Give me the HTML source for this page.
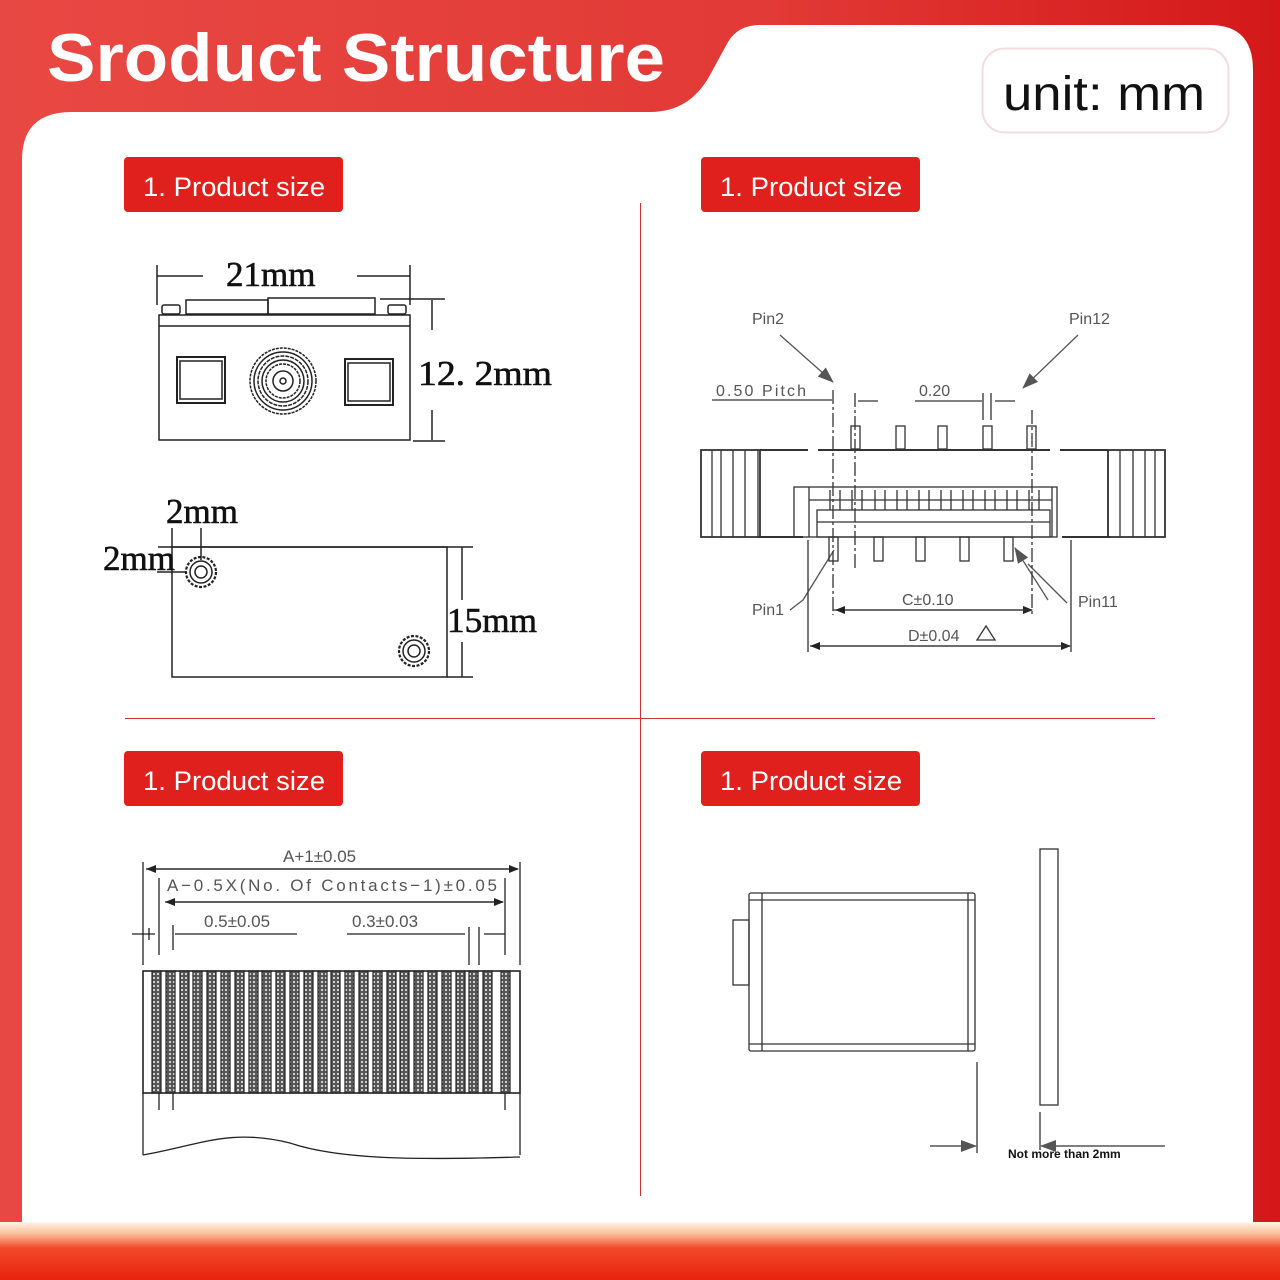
<!DOCTYPE html>
<html><head><meta charset="utf-8"><style>
html,body{margin:0;padding:0;width:1280px;height:1280px;overflow:hidden}
svg{display:block}
.s{font-family:"Liberation Sans",sans-serif}
.sf{font-family:"Liberation Serif",serif}
</style></head><body>
<svg width="1280" height="1280" viewBox="0 0 1280 1280" xmlns="http://www.w3.org/2000/svg">
<defs>
<linearGradient id="bg" x1="0" x2="1" y1="0" y2="0"><stop offset="0" stop-color="#e84843"/><stop offset="0.6" stop-color="#e23a36"/><stop offset="1" stop-color="#d4181a"/></linearGradient>
<linearGradient id="bot" x1="0" x2="0" y1="0" y2="1"><stop offset="0" stop-color="#fff6e8"/><stop offset="0.2" stop-color="#fcc09a"/><stop offset="0.45" stop-color="#f24a2a"/><stop offset="1" stop-color="#e8220e"/></linearGradient>
<pattern id="hat" width="4" height="4" patternUnits="userSpaceOnUse"><rect width="4" height="4" fill="#555"/><circle cx="2" cy="2" r="1.1" fill="#ddd"/></pattern>
<marker id="ar" markerWidth="10" markerHeight="8" refX="9" refY="4" orient="auto" markerUnits="userSpaceOnUse"><path d="M0,0 L10,4 L0,8z" fill="#222"/></marker>
<marker id="ag" markerWidth="16" markerHeight="12" refX="15" refY="6" orient="auto" markerUnits="userSpaceOnUse"><path d="M0,0 L16,6 L0,12z" fill="#555"/></marker>
</defs>
<rect width="1280" height="1280" fill="url(#bg)"/>
<path d="M22,1230 L22,160 Q22,112 72,112 L650,112 Q690,112 710,75 L728,42 Q738,25 760,25 L1210,25 Q1253,25 1253,70 L1253,1230 Z" fill="#fff"/>
<rect x="0" y="1222" width="1280" height="58" fill="url(#bot)"/>
<text x="47" y="81" class="s" font-size="68" font-weight="bold" fill="#fff" textLength="618" lengthAdjust="spacingAndGlyphs">Sroduct Structure</text>
<rect x="982.5" y="48.5" width="246" height="84" rx="22" fill="#fff" stroke="#f1dde0" stroke-width="2"/>
<text x="1003" y="110" class="s" font-size="48" fill="#111" textLength="202" lengthAdjust="spacingAndGlyphs">unit: mm</text>
<g class="s" font-size="27" fill="#fff">
<rect x="124" y="157" width="219" height="55" rx="4" fill="#e0201c"/><text x="143" y="196" textLength="182" lengthAdjust="spacingAndGlyphs">1. Product size</text>
<rect x="701" y="157" width="219" height="55" rx="4" fill="#e0201c"/><text x="720" y="196" textLength="182" lengthAdjust="spacingAndGlyphs">1. Product size</text>
<rect x="124" y="751" width="219" height="55" rx="4" fill="#e0201c"/><text x="143" y="790" textLength="182" lengthAdjust="spacingAndGlyphs">1. Product size</text>
<rect x="701" y="751" width="219" height="55" rx="4" fill="#e0201c"/><text x="720" y="790" textLength="182" lengthAdjust="spacingAndGlyphs">1. Product size</text>
</g>
<line x1="640.5" y1="203" x2="640.5" y2="1196" stroke="#c33" stroke-width="1"/>
<line x1="125" y1="718.5" x2="1155" y2="718.5" stroke="#c33" stroke-width="1"/>

<!-- Top-left -->
<g stroke="#222" stroke-width="1.5" fill="none">
<line x1="157" y1="265" x2="157" y2="305"/><line x1="410" y1="265" x2="410" y2="305"/>
<line x1="157" y1="276" x2="203" y2="276"/><line x1="357" y1="276" x2="410" y2="276"/>
<rect x="159" y="315" width="251" height="125"/><line x1="159" y1="326" x2="410" y2="326"/>
<rect x="186" y="300" width="82" height="14"/><rect x="268" y="298" width="107" height="16"/>
<rect x="162" y="305" width="18" height="9" rx="2"/><rect x="388" y="305" width="18" height="9" rx="2"/>
<rect x="177" y="357" width="48" height="46" stroke-width="2"/><rect x="180" y="361" width="42" height="38"/>
<rect x="345" y="359" width="48" height="46" stroke-width="2"/><rect x="348" y="363" width="42" height="38"/>
<circle cx="283" cy="381" r="33" stroke-dasharray="3 1"/><circle cx="283" cy="381" r="29"/><circle cx="283" cy="381" r="25" stroke-dasharray="4 1"/><circle cx="283" cy="381" r="21"/><circle cx="283" cy="381" r="17" stroke-dasharray="3 1"/><circle cx="283" cy="381" r="10"/><circle cx="283" cy="381" r="3"/>
<line x1="432" y1="300" x2="432" y2="330"/><line x1="432" y1="410" x2="432" y2="440"/>
<line x1="380" y1="299" x2="445" y2="299"/><line x1="413" y1="441" x2="445" y2="441"/>
<rect x="172" y="547" width="275" height="130"/>
<line x1="158" y1="547" x2="473" y2="547"/><line x1="447" y1="677" x2="473" y2="677"/>
<line x1="462" y1="547" x2="462" y2="600"/><line x1="462" y1="642" x2="462" y2="677"/>
<line x1="172" y1="528" x2="172" y2="547"/><line x1="201" y1="528" x2="201" y2="560"/>
<line x1="157" y1="572" x2="186" y2="572"/>
<circle cx="201" cy="572" r="15" stroke-width="2.2" stroke-dasharray="3 1.5"/><circle cx="201" cy="572" r="11"/><circle cx="201" cy="572" r="6"/>
<circle cx="414" cy="651" r="15" stroke-width="2.2" stroke-dasharray="3 1.5"/><circle cx="414" cy="651" r="11"/><circle cx="414" cy="651" r="6"/>
</g>
<g class="sf" font-size="35" fill="#111" stroke="#111" stroke-width="0.6">
<text x="226" y="286">21mm</text><text x="418" y="385" textLength="134" lengthAdjust="spacingAndGlyphs">12. 2mm</text>
<text x="166" y="523">2mm</text><text x="103" y="570">2mm</text><text x="447" y="632" textLength="90" lengthAdjust="spacingAndGlyphs">15mm</text>
</g>

<!-- Top-right -->
<g class="s" font-size="16" fill="#555">
<text x="752" y="324">Pin2</text><text x="1069" y="324">Pin12</text>
<text x="716" y="396" textLength="90" lengthAdjust="spacing">0.50  Pitch</text><text x="919" y="396">0.20</text>
<text x="752" y="615">Pin1</text><text x="1078" y="607">Pin11</text>
<text x="902" y="605">C±0.10</text><text x="908" y="641">D±0.04</text>
</g>
<g stroke="#333" stroke-width="1.3" fill="none">
<line x1="780" y1="335" x2="833" y2="382" stroke="#555" marker-end="url(#ag)"/>
<line x1="1078" y1="335" x2="1023" y2="388" stroke="#555" marker-end="url(#ag)"/>
<line x1="1028" y1="564" x2="1067" y2="603" stroke="#555"/>
<path d="M1048,600 L1015,548" stroke="#555" marker-end="url(#ag)"/>
<path d="M790,610 L803,600 L834,550" stroke="#555"/>
<line x1="712" y1="400" x2="832" y2="400"/><line x1="858" y1="401" x2="878" y2="401"/>
<line x1="915" y1="401" x2="982" y2="401"/><line x1="983" y1="393" x2="983" y2="420"/><line x1="991" y1="393" x2="991" y2="420"/><line x1="995" y1="401" x2="1015" y2="401"/>
<line x1="833" y1="390" x2="833" y2="615" stroke-dasharray="14 3 3 3"/>
<line x1="855" y1="393" x2="855" y2="570" stroke-dasharray="14 3 3 3"/>
<line x1="1032" y1="410" x2="1032" y2="615" stroke-dasharray="14 3 3 3"/>
<rect x="851" y="426" width="9" height="23"/><rect x="896" y="426" width="9" height="23"/><rect x="938" y="426" width="9" height="23"/><rect x="983" y="426" width="9" height="23"/><rect x="1027" y="426" width="9" height="23"/>
<rect x="701" y="450" width="59" height="87" stroke-width="1.8"/>
<line x1="712" y1="450" x2="712" y2="537"/><line x1="721" y1="450" x2="721" y2="537"/><line x1="733" y1="450" x2="733" y2="537"/><line x1="745" y1="450" x2="745" y2="537"/>
<line x1="760" y1="450" x2="808" y2="450" stroke-width="2"/><line x1="818" y1="450" x2="1050" y2="450" stroke-width="2"/><line x1="1060" y1="450" x2="1108" y2="450" stroke-width="2"/>
<line x1="758" y1="537" x2="803" y2="537" stroke-width="2"/><line x1="1062" y1="537" x2="1110" y2="537" stroke-width="2"/>
<line x1="758" y1="450" x2="758" y2="537"/><line x1="1108" y1="450" x2="1108" y2="537"/>
<rect x="1108" y="450" width="57" height="87" stroke-width="1.8"/>
<line x1="1120" y1="450" x2="1120" y2="537"/><line x1="1133" y1="450" x2="1133" y2="537"/><line x1="1145" y1="450" x2="1145" y2="537"/><line x1="1155" y1="450" x2="1155" y2="537"/>
<rect x="794" y="487" width="263" height="50"/>
<line x1="809" y1="487" x2="809" y2="537"/><line x1="1052" y1="487" x2="1052" y2="537"/>
<line x1="809" y1="500" x2="1052" y2="500"/>
<rect x="817" y="510" width="233" height="27"/><line x1="817" y1="522" x2="1050" y2="522"/>
<path d="M830,490 v20 M840,490 v20 M852,490 v20 M862,490 v20 M875,490 v20 M885,490 v20 M897,490 v20 M907,490 v20 M919,490 v20 M929,490 v20 M941,490 v20 M951,490 v20 M963,490 v20 M973,490 v20 M985,490 v20 M995,490 v20 M1007,490 v20 M1017,490 v20 M1029,490 v20 M1039,490 v20"/>
<rect x="829" y="537" width="9" height="24"/><rect x="874" y="537" width="9" height="24"/><rect x="916" y="537" width="9" height="24"/><rect x="960" y="537" width="9" height="24"/><rect x="1004" y="537" width="9" height="24"/>
<line x1="833" y1="610" x2="1032" y2="610" marker-end="url(#ar)"/><line x1="1032" y1="610" x2="836" y2="610" marker-end="url(#ar)"/>
<line x1="808" y1="540" x2="808" y2="652"/><line x1="1071" y1="540" x2="1071" y2="652"/>
<line x1="810" y1="646" x2="1070" y2="646" marker-end="url(#ar)"/><line x1="1070" y1="646" x2="811" y2="646" marker-end="url(#ar)"/>
<path d="M977,640 L986,626 L995,640 Z"/>
</g>

<!-- Bottom-left -->
<g class="s" font-size="17" fill="#555">
<text x="283" y="862">A+1±0.05</text>
<text x="167" y="891" textLength="330" lengthAdjust="spacing">A−0.5X(No.  Of  Contacts−1)±0.05</text>
<text x="204" y="927">0.5±0.05</text><text x="352" y="927">0.3±0.03</text>
</g>
<g stroke="#222" stroke-width="1.3" fill="none">
<line x1="143" y1="862" x2="143" y2="965"/><line x1="520" y1="862" x2="520" y2="965"/>
<line x1="146" y1="869" x2="518" y2="869" marker-end="url(#ar)"/><line x1="518" y1="869" x2="147" y2="869" marker-end="url(#ar)"/>
<line x1="159" y1="878" x2="159" y2="955"/><line x1="505" y1="878" x2="505" y2="955"/>
<line x1="165" y1="902" x2="503" y2="902" marker-end="url(#ar)"/><line x1="503" y1="902" x2="166" y2="902" marker-end="url(#ar)"/>
<line x1="173" y1="925" x2="173" y2="950"/>
<line x1="175" y1="934" x2="297" y2="934"/><line x1="347" y1="934" x2="465" y2="934"/>
<line x1="469" y1="927" x2="469" y2="965"/><line x1="479" y1="927" x2="479" y2="965"/><line x1="484" y1="934" x2="505" y2="934"/>
<line x1="132" y1="934" x2="155" y2="934"/><line x1="149" y1="928" x2="149" y2="940"/>
<rect x="143" y="971" width="377" height="122" stroke-width="1.6"/>
<line x1="159" y1="1093" x2="159" y2="1110"/><line x1="173" y1="1093" x2="173" y2="1110"/><line x1="505" y1="1093" x2="505" y2="1110"/>
<line x1="143" y1="1093" x2="143" y2="1155"/><line x1="520" y1="1093" x2="520" y2="1155"/>
<path d="M143,1155 C200,1145 230,1128 290,1143 C340,1160 420,1160 520,1157"/>
</g>
<g fill="url(#hat)" stroke="#222" stroke-width="1.2">
<rect x="152" y="971" width="9" height="122"/><rect x="166" y="971" width="9" height="122"/><rect x="180" y="971" width="9" height="122"/><rect x="193" y="971" width="9" height="122"/><rect x="207" y="971" width="9" height="122"/><rect x="221" y="971" width="9" height="122"/><rect x="235" y="971" width="9" height="122"/><rect x="249" y="971" width="9" height="122"/><rect x="262" y="971" width="9" height="122"/><rect x="276" y="971" width="9" height="122"/><rect x="290" y="971" width="9" height="122"/><rect x="304" y="971" width="9" height="122"/><rect x="318" y="971" width="9" height="122"/><rect x="331" y="971" width="9" height="122"/><rect x="345" y="971" width="9" height="122"/><rect x="359" y="971" width="9" height="122"/><rect x="373" y="971" width="9" height="122"/><rect x="387" y="971" width="9" height="122"/><rect x="400" y="971" width="9" height="122"/><rect x="414" y="971" width="9" height="122"/><rect x="428" y="971" width="9" height="122"/><rect x="442" y="971" width="9" height="122"/><rect x="456" y="971" width="9" height="122"/><rect x="469" y="971" width="9" height="122"/><rect x="483" y="971" width="9" height="122"/><rect x="501" y="971" width="9" height="122"/>
</g>

<!-- Bottom-right -->
<g stroke="#333" stroke-width="1.3" fill="none">
<rect x="749" y="893" width="226" height="158" rx="2"/>
<line x1="749" y1="900" x2="975" y2="900"/><line x1="749" y1="1044" x2="975" y2="1044"/>
<line x1="762" y1="893" x2="762" y2="1051"/><line x1="968" y1="893" x2="968" y2="1051"/>
<rect x="733" y="920" width="16" height="65"/>
<rect x="1040" y="849" width="18" height="256"/>
<line x1="977" y1="1062" x2="977" y2="1153"/>
<line x1="930" y1="1146" x2="976" y2="1146" marker-end="url(#ag)"/>
<line x1="1040" y1="1112" x2="1040" y2="1150"/>
<line x1="1165" y1="1146" x2="1041" y2="1146" marker-end="url(#ag)"/>
</g>
<text x="1008" y="1158" class="s" font-size="12" font-weight="bold" fill="#111">Not more than 2mm</text>
</svg>
</body></html>
